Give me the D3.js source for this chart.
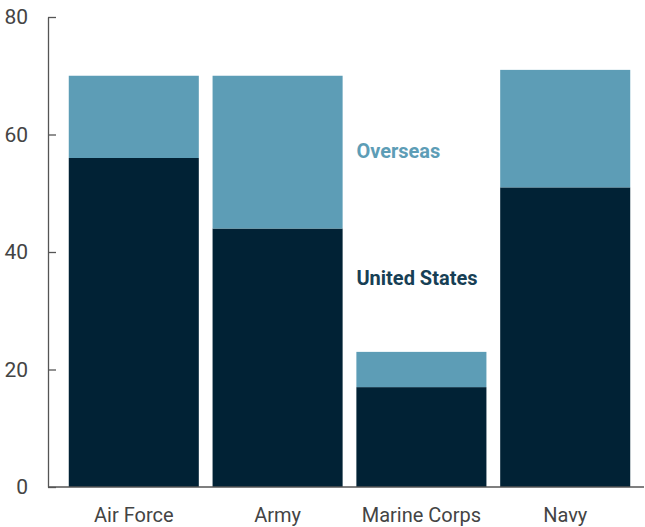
<!DOCTYPE html>
<html>
<head>
<meta charset="utf-8">
<script src="https://cdn.jsdelivr.net/npm/d3@7"></script>
<style>
  body { margin: 0; background: #fff; }
  svg text { font-family: Roboto, "Liberation Sans", sans-serif; }
</style>
</head>
<body>
<svg id="chart" width="645" height="527"></svg>
<script>
// data
const branches = ["Air Force", "Army", "Marine Corps", "Navy"];
const unitedStates = [56, 44, 17, 51];
const overseas = [14, 26, 6, 20];
const yTicks = [0, 20, 40, 60, 80];

const colors = { us: "#012235", overseas: "#5d9db6" };

const svg = d3.select("#chart");

let x = d3.scaleBand()
    .domain(branches)
    .range([55, 644])
    .padding(0.0957);

let y = d3.scaleLinear()
    .domain([0, 80])
    .range([487, 17]);

// stacked rows
let rows = branches.map(function (b, i) {
    return { branch: b, us: unitedStates[i], overseas: overseas[i] };
});
let stack = d3.stack().keys(["us", "overseas"]);
let series = stack(rows);

svg.append("g").selectAll("g")
    .data(series)
    .enter()
    .append("g")
    .attr("fill", function (d) { return colors[d.key]; })
    .selectAll("rect")
    .data(function (d) { return d; })
    .enter()
    .append("rect")
    .attr("x", function (d) { return x(d.data.branch); })
    .attr("width", x.bandwidth())
    .attr("y", function (d) { return y(d[1]); })
    .attr("height", function (d) { return y(d[0]) - y(d[1]); });

// y axis
let yAxis = svg.append("g")
    .attr("transform", "translate(48,0)")
    .call(d3.axisRight(y).tickValues(yTicks).tickSize(8).tickSizeOuter(0));
yAxis.select(".domain").attr("stroke", "#555").attr("stroke-width", 1.3);
yAxis.selectAll(".tick line").attr("stroke", "#555").attr("stroke-width", 1.3);
yAxis.selectAll(".tick text")
    .attr("x", -20)
    .attr("text-anchor", "end")
    .attr("fill", "#444")
    .style("font-size", "21px");

// x axis baseline and labels
let xAxis = svg.append("g")
    .attr("transform", "translate(0,487)")
    .call(d3.axisBottom(x).tickSize(0).tickPadding(21));
xAxis.select(".domain").attr("d", "M48,0H644").attr("stroke", "#555").attr("stroke-width", 1.3);
xAxis.selectAll(".tick text")
    .attr("fill", "#444")
    .style("font-size", "20px");

// series labels
svg.append("text")
    .attr("x", x("Marine Corps"))
    .attr("y", y(56))
    .attr("fill", colors.overseas)
    .style("font-size", "20px")
    .style("font-weight", "bold")
    .text("Overseas");

svg.append("text")
    .attr("x", x("Marine Corps"))
    .attr("y", y(34.4))
    .attr("fill", "#173f55")
    .style("font-size", "20px")
    .style("font-weight", "bold")
    .text("United States");
</script>
</body>
</html>
